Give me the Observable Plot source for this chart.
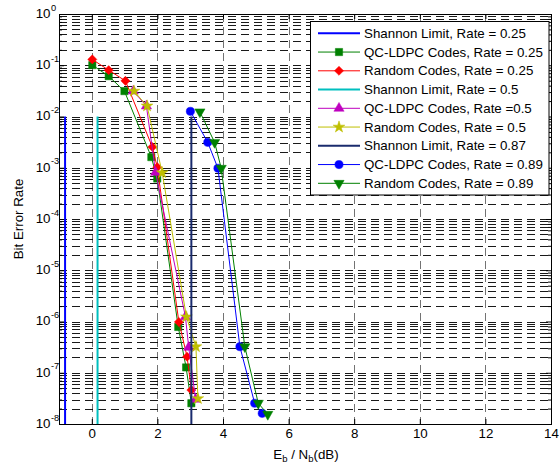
<!DOCTYPE html>
<html>
<head>
<meta charset="utf-8">
<script src="https://cdn.jsdelivr.net/npm/d3@7"></script>
<script src="https://cdn.jsdelivr.net/npm/@observablehq/plot@0.6"></script>
<style>
  html, body { margin: 0; padding: 0; background: #fff; }
  #chart svg { display: block; }
</style>
</head>
<body>
<div id="chart"></div>
<script>
// ---------- data ----------
const xTicks = [0, 2, 4, 6, 8, 10, 12, 14];
const yExponents = [0, -1, -2, -3, -4, -5, -6, -7, -8];

const shannonLabels = ["Shannon Limit, Rate = 0.25", "Shannon Limit, Rate = 0.5", "Shannon Limit, Rate = 0.87"];
const shannonX = [-0.83, 0.16, 3.02];
const shannonTop = 1e-2;

const qc025_x   = [0, 0.5, 0.98, 1.80, 1.98, 2.62, 2.86, 3.02];
const qc025_ber = [0.103, 0.0626, 0.032, 1.65e-3, 6.3e-4, 8.0e-7, 1.3e-7, 2.6e-8];

const rnd025_x   = [0, 0.5, 1.01, 1.83, 1.98, 2.64, 2.89, 3.02];
const rnd025_ber = [0.133, 0.082, 0.0507, 2.6e-3, 1.05e-3, 1.0e-6, 2.1e-7, 4.7e-8];

const qc05_x   = [1.25, 1.65, 1.93, 2.84, 2.94, 3.15];
const qc05_ber = [0.032, 0.0164, 8.3e-4, 1.26e-6, 3.2e-7, 3.1e-8];

const rnd05_x   = [1.27, 1.67, 2.13, 2.87, 3.16, 3.22];
const rnd05_ber = [0.032, 0.0164, 8.2e-4, 1.26e-6, 3.3e-7, 3.2e-8];

const qc089_x   = [2.99, 3.52, 3.83, 4.50, 4.95, 5.18];
const qc089_ber = [0.0129, 3.2e-3, 1.0e-3, 3.3e-7, 2.6e-8, 1.65e-8];

const rnd089_x   = [3.28, 3.73, 3.93, 4.65, 5.06, 5.35];
const rnd089_ber = [0.0126, 3.2e-3, 1.0e-3, 3.3e-7, 2.6e-8, 1.58e-8];

const legendLabels = [
  "Shannon Limit, Rate = 0.25", "QC-LDPC Codes, Rate = 0.25", "Random Codes, Rate = 0.25",
  "Shannon Limit, Rate = 0.5", "QC-LDPC Codes, Rate =0.5", "Random Codes, Rate = 0.5",
  "Shannon Limit, Rate = 0.87", "QC-LDPC Codes, Rate = 0.89", "Random Codes, Rate = 0.89"
];

// ---------- styles ----------
const FONT = "'Liberation Sans', Arial, Helvetica, sans-serif";
const triangleDown = {
  draw(context, size) {
    const y = Math.sqrt(size / (Math.sqrt(3) * 3));
    context.moveTo(0, y * 2);
    context.lineTo(-Math.sqrt(3) * y, -y);
    context.lineTo(Math.sqrt(3) * y, -y);
    context.closePath();
  }
};
const shannonColors = ["#0000ff", "#00bfbf", "#1a2b6d"];
const curves = [
  {x: qc025_x,  y: qc025_ber,  color: "#008000", symbol: "square",   r: 4.1, legend: 1},
  {x: rnd025_x, y: rnd025_ber, color: "#ff0000", symbol: "diamond2", r: 4.1, legend: 2},
  {x: qc05_x,   y: qc05_ber,   color: "#bf00bf", symbol: "triangle", r: 3.8, legend: 4},
  {x: rnd05_x,  y: rnd05_ber,  color: "#bfbf00", symbol: "star",     r: 3.7, legend: 5},
  {x: qc089_x,  y: qc089_ber,  color: "#0000ff", symbol: "circle",   r: 4.1, legend: 7},
  {x: rnd089_x, y: rnd089_ber, color: "#008000", symbol: triangleDown, r: 3.8, legend: 8}
];

// ---------- layout ----------
const W = 560, H = 464;
const mL = 59, mR = 9, mT = 14, mB = 40;
const plotW = W - mL - mR, plotH = H - mT - mB;

const allYTicks = d3.scaleLog().domain([1e-8, 1]).ticks();
const gridY = allYTicks.filter(v => v > 1e-8 * 1.0001 && v < 0.9999);
const decades = yExponents.map(e => Math.pow(10, e));
const minorY = allYTicks.filter(v => !decades.some(d => Math.abs(v / d - 1) < 1e-6));
const gridX = xTicks.filter(v => v > -1 && v < 14);

const shannonData = shannonX.map((x, i) => ({x, label: shannonLabels[i], color: shannonColors[i]}));

// drawing order follows the legend order
const order = [
  {type: "shannon", i: 0}, {type: "curve", i: 0}, {type: "curve", i: 1},
  {type: "shannon", i: 1}, {type: "curve", i: 2}, {type: "curve", i: 3},
  {type: "shannon", i: 2}, {type: "curve", i: 4}, {type: "curve", i: 5}
];

const marks = [
  Plot.ruleY(gridY, {y: d => d, stroke: "#000", strokeWidth: 1, strokeOpacity: 0.9, strokeDasharray: "8,5", shapeRendering: "crispEdges"}),
  Plot.ruleX(gridX, {x: d => d, stroke: "#000", strokeWidth: 1, strokeOpacity: 0.55, strokeDasharray: "8,5", shapeRendering: "crispEdges"})
];
for (const o of order) {
  if (o.type === "shannon") {
    const s = shannonData[o.i];
    marks.push(Plot.ruleX([s], {x: "x", y1: 1e-8, y2: shannonTop, stroke: s.color, strokeWidth: 2}));
  } else {
    const c = curves[o.i];
    const pts = c.x.map((x, k) => ({x, y: c.y[k]}));
    marks.push(Plot.line(pts, {x: "x", y: "y", stroke: c.color, strokeWidth: 1}));
    marks.push(Plot.dot(pts, {x: "x", y: "y", symbol: c.symbol, r: c.r, fill: c.color, stroke: c.color, strokeWidth: 0.5}));
  }
}
marks.push(
  Plot.frame({stroke: "#000", strokeWidth: 1}),
  Plot.ruleX(xTicks, {x: d => d, insetTop: plotH - 5, stroke: "#000"}),
  Plot.ruleX(xTicks, {x: d => d, insetBottom: plotH - 5, stroke: "#000"}),
  Plot.ruleY(decades, {y: d => d, insetRight: plotW - 5, stroke: "#000"}),
  Plot.ruleY(decades, {y: d => d, insetLeft: plotW - 5, stroke: "#000"}),
  Plot.ruleY(minorY, {y: d => d, insetRight: plotW - 3, stroke: "#000"}),
  Plot.ruleY(minorY, {y: d => d, insetLeft: plotW - 3, stroke: "#000"}),
  Plot.text(xTicks, {x: d => d, y: 1e-8, text: d => String(d), lineAnchor: "top", dy: 4, fontSize: 13.33, fill: "#000"}),
  Plot.text(decades, {x: -1, y: d => d, text: () => "10", textAnchor: "end", dx: -9, dy: -1, fontSize: 13.33, fill: "#000"}),
  Plot.text(yExponents, {x: -1, y: e => Math.pow(10, e), text: e => (e < 0 ? "-" + Math.abs(e) : String(e)), textAnchor: "start", lineAnchor: "bottom", dx: -8.5, dy: -4, fontSize: 9.3, fill: "#000"})
);

const svgNode = Plot.plot({
  width: W,
  height: H,
  marginLeft: mL, marginRight: mR, marginTop: mT, marginBottom: mB,
  style: {fontFamily: FONT, fontSize: "13.33px", background: "#fff", overflow: "visible"},
  x: {domain: [-1, 14], axis: null},
  y: {type: "log", domain: [1e-8, 1], axis: null},
  marks
});
document.getElementById("chart").appendChild(svgNode);

const svg = d3.select(svgNode);

// y axis title
svg.append("text")
  .attr("transform", `translate(22.5,${mT + plotH / 2}) rotate(-90)`)
  .attr("text-anchor", "middle")
  .attr("font-family", FONT).attr("font-size", 13.33).attr("fill", "#000")
  .text("Bit Error Rate");

// x axis title with subscripts
const xt = svg.append("text")
  .attr("x", mL + plotW / 2 + 1).attr("y", 458.5)
  .attr("text-anchor", "middle")
  .attr("font-family", FONT).attr("font-size", 13.33).attr("fill", "#000");
xt.append("tspan").text("E");
xt.append("tspan").attr("dy", 3).attr("font-size", 9.5).text("b");
xt.append("tspan").attr("dy", -3).text(" / N");
xt.append("tspan").attr("dy", 3).attr("font-size", 9.5).text("b");
xt.append("tspan").attr("dy", -3).text("(dB)");

// legend
const lg = svg.append("g");
lg.append("rect")
  .attr("x", 310.5).attr("y", 21.5).attr("width", 238.5).attr("height", 173.5)
  .attr("fill", "#fff").attr("stroke", "#000").attr("stroke-width", 1);
const symMap = {square: d3.symbolSquare, diamond2: d3.symbolDiamond2, triangle: d3.symbolTriangle, star: d3.symbolStar, circle: d3.symbolCircle};
legendLabels.forEach((label, i) => {
  const y = 33.3 + i * 18.75;
  let color, c = null;
  const sIdx = shannonLabels.indexOf(label);
  if (sIdx >= 0) { color = shannonColors[sIdx]; }
  else { c = curves.find(cc => cc.legend === i); color = c.color; }
  lg.append("line").attr("x1", 318).attr("x2", 360).attr("y1", y).attr("y2", y)
    .attr("stroke", color).attr("stroke-width", sIdx >= 0 ? 2 : 1);
  if (c) {
    const type = typeof c.symbol === "string" ? symMap[c.symbol] : c.symbol;
    lg.append("path")
      .attr("transform", `translate(339,${y})`)
      .attr("d", d3.symbol(type, c.r * c.r * Math.PI)())
      .attr("fill", color).attr("stroke", color).attr("stroke-width", 0.5);
  }
  lg.append("text").attr("x", 364).attr("y", y).attr("dy", "0.35em")
    .attr("text-anchor", "start")
    .attr("font-family", FONT).attr("font-size", 13.33).attr("fill", "#000")
    .text(label);
});
</script>
</body>
</html>
